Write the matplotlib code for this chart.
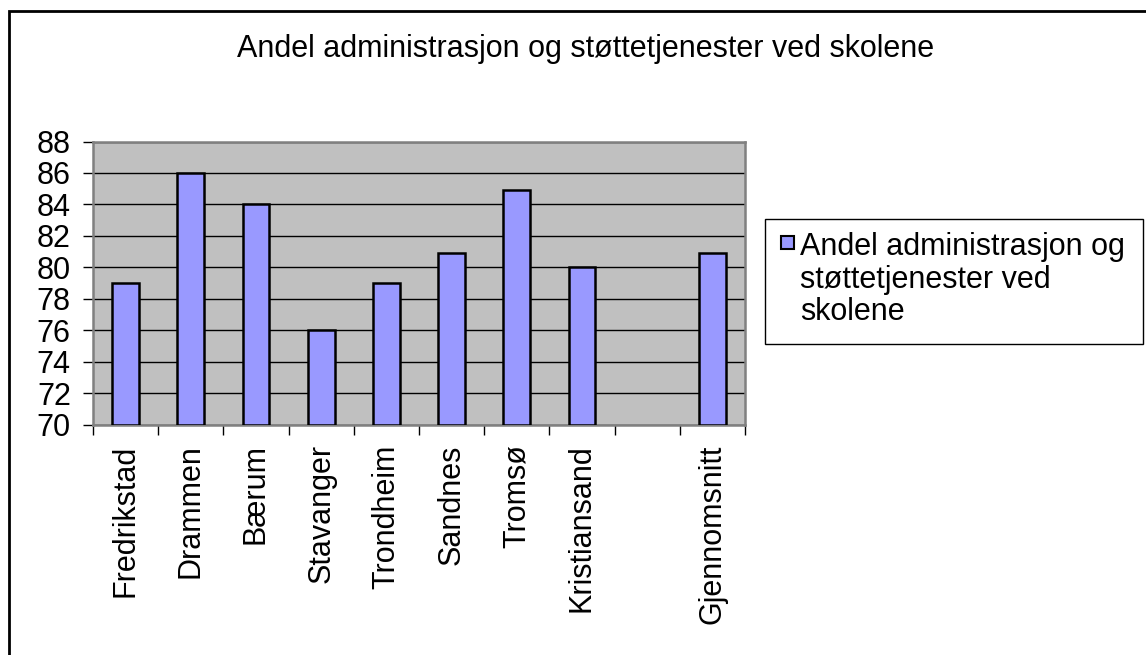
import matplotlib
matplotlib.use("Agg")
import matplotlib.pyplot as plt
from matplotlib.patches import Rectangle
import numpy as np

plt.rcParams['font.family'] = ['Liberation Sans', 'DejaVu Sans']

title = "Andel administrasjon og støttetjenester ved skolene"
series_label = "Andel administrasjon og\nstøttetjenester ved\nskolene"
categories = ["Fredrikstad", "Drammen", "Bærum", "Stavanger", "Trondheim",
              "Sandnes", "Tromsø", "Kristiansand", "", "Gjennomsnitt"]
values = [79, 86, 84, 76, 79, 80.9, 84.9, 80, np.nan, 80.9]
yticks = [70, 72, 74, 76, 78, 80, 82, 84, 86, 88]

W, H = 1146, 655
FS = 22
fig = plt.figure(figsize=(W / 100, H / 100), dpi=100)
fig.patch.set_facecolor("white")

ax = fig.add_axes([93 / W, 1 - 424.5 / H, (745 - 93) / W, (424.5 - 141.5) / H])
ax.set_facecolor("#C0C0C0")
vals = np.array(values, dtype=float)
x = np.arange(len(categories))
m = ~np.isnan(vals)
ax.bar(x[m], vals[m] - yticks[0], bottom=yticks[0], width=0.41,
       color="#9999FF", edgecolor="black", linewidth=1.8, zorder=3)
ax.set_xlim(-0.5, len(categories) - 0.5)
ax.set_ylim(yticks[0], yticks[-1])
ax.set_yticks(yticks)
ax.set_yticklabels([str(t) for t in yticks], fontsize=FS)
ax.yaxis.grid(True, color="black", linewidth=1.0, zorder=1)
ax.set_axisbelow(True)

# category labels between boundary ticks
ax.set_xticks(np.arange(len(categories) + 1) - 0.5)
ax.set_xticklabels([])
ax.tick_params(axis="x", direction="out", length=7, width=1, color="black")
ax.tick_params(axis="y", direction="out", length=7, width=1, color="black", pad=9)
for i, c in enumerate(categories):
    ax.text(i, -0.07, c, transform=ax.get_xaxis_transform(), rotation=90,
            ha="center", va="top", fontsize=FS)

for s in ax.spines.values():
    s.set_color("#808080")
    s.set_linewidth(1.8)

# title
fig.text(586 / W, 1 - 57 / H, title, ha="center", va="baseline", fontsize=FS)

# legend (manual)
lx0, ly0, lx1, ly1 = 765, 219, 1143, 344
fig.patches.append(Rectangle((lx0 / W, 1 - ly1 / H), (lx1 - lx0) / W, (ly1 - ly0) / H,
                             transform=fig.transFigure, facecolor="white",
                             edgecolor="black", linewidth=1.0))
fig.patches.append(Rectangle((781 / W, 1 - 249 / H), 13 / W, 13 / H,
                             transform=fig.transFigure, facecolor="#9999FF",
                             edgecolor="black", linewidth=1.5))
for k, line in enumerate(series_label.split("\n")):
    fig.text(800 / W, 1 - (255 + 32.7 * k) / H, line, ha="left", va="baseline",
             fontsize=FS)

# outer chart border
fig.patches.append(Rectangle((9 / W, -0.05), 1.2, 1 - 10.5 / H + 0.05,
                             transform=fig.transFigure, facecolor="none",
                             edgecolor="black", linewidth=2.0, clip_on=False))

fig.savefig("out.png", dpi=100)
